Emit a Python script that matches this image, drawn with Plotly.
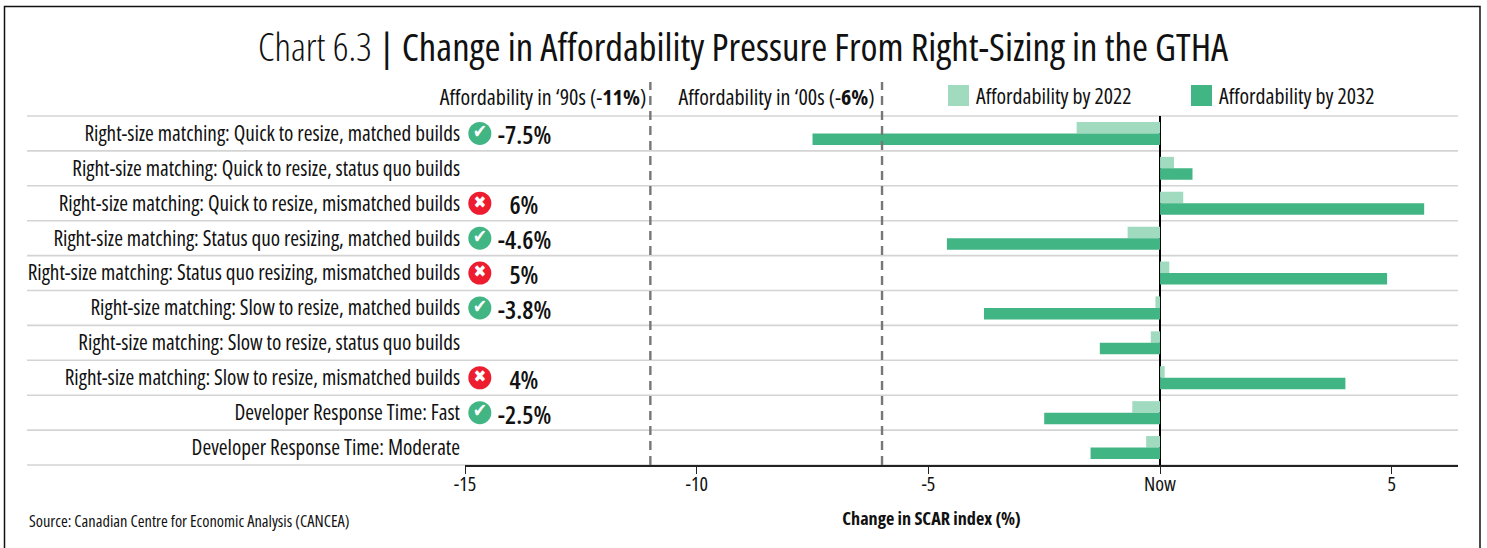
import plotly.graph_objects as go

categories = [
    "Right-size matching: Quick to resize, matched builds",
    "Right-size matching: Quick to resize, status quo builds",
    "Right-size matching: Quick to resize, mismatched builds",
    "Right-size matching: Status quo resizing, matched builds",
    "Right-size matching: Status quo resizing, mismatched builds",
    "Right-size matching: Slow to resize, matched builds",
    "Right-size matching: Slow to resize, status quo builds",
    "Right-size matching: Slow to resize, mismatched builds",
    "Developer Response Time: Fast",
    "Developer Response Time: Moderate",
]
by_2022 = [-1.8, 0.3, 0.5, -0.7, 0.2, -0.1, -0.2, 0.1, -0.6, -0.3]
by_2032 = [-7.5, 0.7, 5.7, -4.6, 4.9, -3.8, -1.3, 4.0, -2.5, -1.5]
callouts = ["-7.5%", None, "6%", "-4.6%", "5%", "-3.8%", None, "4%", "-2.5%", None]
verdicts = ["good", None, "bad", "good", "bad", "good", None, "bad", "good", None]
tick_vals = [-15, -10, -5, 0, 5]
tick_text = ["-15", "-10", "-5", "Now", "5"]
history = [(-11, "Affordability in ‘90s (-<b>11%</b>)"), (-6, "Affordability in ‘00s (-<b>6%</b>)")]

W, H = 1487, 548
L, R, T, B = 465, 1458, 116, 465
PW, PH = R - L, B - T
FONT = "Open Sans"
DARK, LIGHT = "#41b583", "#a0dbc0"
px = lambda x: (x - L) / PW
py = lambda y: (B - y) / PH

fig = go.Figure()
fig.add_bar(name="Affordability by 2022", y=categories, x=by_2022, orientation="h",
            marker=dict(color=LIGHT, line_width=0))
fig.add_bar(name="Affordability by 2032", y=categories, x=by_2032, orientation="h",
            marker=dict(color=DARK, line_width=0))

# status icons
for kind, color, glyph, gsize in [("good", "#41b583", "✔", 19), ("bad", "#ed1c2e", "✖", 17)]:
    ys = [c for c, v in zip(categories, verdicts) if v == kind]
    fig.add_scatter(y=ys, x=[-14.68] * len(ys), mode="markers+text", cliponaxis=False,
                    marker=dict(size=23, color=color, line_width=0),
                    text=[glyph] * len(ys), textposition="middle center",
                    textfont=dict(family="DejaVu Sans", size=gsize, color="white"),
                    hoverinfo="skip")

shapes = []
# frame
shapes.append(dict(type="rect", xref="paper", yref="paper", x0=px(4.5), x1=px(1480),
                   y0=py(600), y1=py(6.5), line=dict(color="#111", width=1.5), layer="below"))
# row separators
for i in range(len(categories) + 1):
    shapes.append(dict(type="line", xref="paper", yref="paper", x0=px(27), x1=1,
                       y0=1 - i / len(categories), y1=1 - i / len(categories),
                       line=dict(color="#d4d4d4", width=1.6), layer="below"))
# historic reference lines
for v, _ in history:
    shapes.append(dict(type="line", xref="x", yref="paper", x0=v, x1=v, y0=0, y1=py(82),
                       line=dict(color="#777777", width=2.4, dash="9px,6px"), layer="above"))
# legend swatches
for x0, color in [(948, LIGHT), (1191, DARK)]:
    shapes.append(dict(type="rect", xref="paper", yref="paper", x0=px(x0), x1=px(x0 + 21),
                       y0=py(106), y1=py(85), fillcolor=color, line_width=0))

ann = []
def text(x, y, s, size, anchor="center", color="#111"):
    ann.append(dict(xref="paper", yref="paper", x=px(x), y=py(y), text=s, showarrow=False,
                    xanchor=anchor, yanchor="middle", align=anchor,
                    font=dict(family=FONT, size=size, color=color)))

text(743, 45.5, '<span style="font-weight:300">Chart 6.3</span> | Change in Affordability Pressure From Right-Sizing in the GTHA', 38.7)
for (v, s), xr in zip(history, (648, 877)):
    text(xr, 96, s, 22, "right")
text(974, 96, "Affordability by 2022", 21.8, "left")
text(1217, 96, "Affordability by 2032", 21.8, "left")
text(27, 520, "Source: Canadian Centre for Economic Analysis (CANCEA)", 16.4, "left")
text(931, 518, "<b>Change in SCAR index (%)</b>", 18.2)
for c, s in zip(categories, callouts):
    if s:
        ann.append(dict(xref="x", yref="y", x=-13.72, y=c, text=s, showarrow=False,
                        xanchor="center", yanchor="middle", yshift=-1,
                        font=dict(family=FONT, size=25, weight=600, color="#111")))

fig.update_layout(
    width=W, height=H, autosize=False, showlegend=False,
    margin=dict(l=L, r=W - R, t=T, b=H - B, pad=0),
    paper_bgcolor="white", plot_bgcolor="white",
    barmode="group", bargap=0.34, bargroupgap=0,
    font=dict(family=FONT, color="#111"),
    shapes=shapes, annotations=ann,
    xaxis=dict(range=[-15, 6.43], tickvals=tick_vals, ticktext=tick_text, automargin=False,
               showgrid=False, showline=True, linecolor="#222", linewidth=1.5,
               ticks="outside", ticklen=7, tickcolor="#222", tickwidth=1.2,
               ticklabelstandoff=-7,
               tickfont=dict(family=FONT, size=20, color="#111"),
               zeroline=True, zerolinecolor="#000", zerolinewidth=1.6),
    yaxis=dict(type="category", categoryorder="array", categoryarray=categories,
               range=[9.5, -0.5], showgrid=False, showline=False, ticks="", automargin=False,
               ticklabelstandoff=4,
               tickfont=dict(family=FONT, size=21.2, color="#111")),
)
# The reference face is condensed: Open Sans is a variable font, so narrow it with CSS and
# let Plotly measure the text again. Also drop the page's default body margin.
POST = """
var st=document.createElement('style');
st.textContent='body{margin:0} svg text{font-stretch:75%}';
document.head.appendChild(st);
var gd=document.getElementById('{plot_id}');
document.fonts.ready.then(function(){Plotly.redraw(gd);});
"""
fig.write_html("out.html", post_script=POST, config=dict(displayModeBar=False))
